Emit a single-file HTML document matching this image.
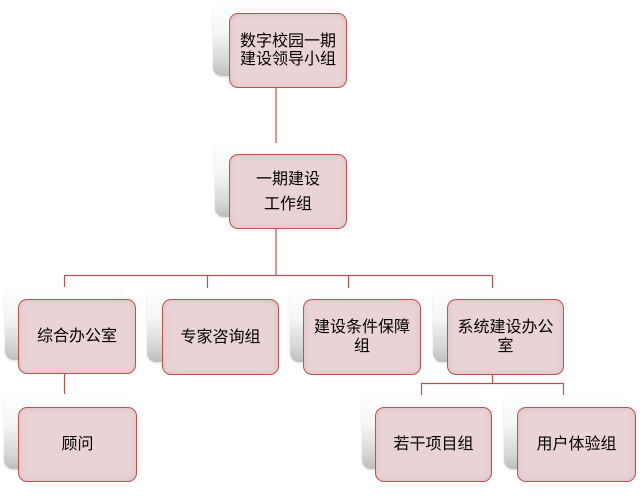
<!DOCTYPE html>
<html><head><meta charset="utf-8"><style>
html,body{margin:0;padding:0;background:#fff;}
body{width:642px;height:498px;overflow:hidden;position:relative;font-family:"Liberation Sans","Noto Sans CJK SC","WenQuanYi Zen Hei",sans-serif;}
.b{position:absolute;border-radius:9px;background:linear-gradient(#ffffff 0%,#f6f6f6 40%,#d6d6d6 80%,#bdbdbd 100%);box-shadow:0 1px 2px rgba(0,0,0,0.15);}
.f{position:absolute;box-sizing:border-box;border:1px solid #c0504d;border-radius:9px;background:#e9d3d4;box-shadow:inset 0 0 6px rgba(200,150,152,0.35);display:flex;align-items:center;justify-content:center;text-align:center;font-size:16px;color:#000;line-height:19px;}
svg{position:absolute;left:0;top:0;}
</style></head><body>
<svg width="642" height="498">
<g stroke="#c0504d" stroke-width="1.2" fill="none">
<line x1="276" y1="85" x2="276" y2="150"/>
<line x1="276" y1="226" x2="276" y2="275.5"/>
<line x1="64" y1="275.5" x2="492" y2="275.5"/>
<line x1="64.5" y1="275" x2="64.5" y2="290"/>
<line x1="207.5" y1="275" x2="207.5" y2="290"/>
<line x1="348.5" y1="275" x2="348.5" y2="290"/>
<line x1="492.5" y1="275" x2="492.5" y2="290"/>
<line x1="64.5" y1="360" x2="64.5" y2="398"/>
<line x1="492.5" y1="370" x2="492.5" y2="383.5"/>
<line x1="421" y1="383.5" x2="563" y2="383.5"/>
<line x1="421.5" y1="383" x2="421.5" y2="398"/>
<line x1="563.5" y1="383" x2="563.5" y2="398"/>
</g>
</svg>

<div class="b" style="left:213px;top:4px;width:122px;height:72px;"></div>
<div class="f" style="left:229px;top:13px;width:118px;height:75px;line-height:18px;">数字校园一期<br>建设领导小组</div>

<div class="b" style="left:215px;top:143px;width:118px;height:74px;"></div>
<div class="f" style="left:229px;top:154px;width:118px;height:75px;line-height:25px;padding-top:1px;">一期建设<br>工作组</div>

<div class="b" style="left:5px;top:287px;width:118px;height:73px;"></div>
<div class="f" style="left:18px;top:299px;width:118px;height:75px;">综合办公室</div>

<div class="b" style="left:147px;top:288px;width:118px;height:74px;"></div>
<div class="f" style="left:162px;top:299px;width:117px;height:76px;">专家咨询组</div>

<div class="b" style="left:290px;top:288px;width:118px;height:74px;"></div>
<div class="f" style="left:303px;top:299px;width:118px;height:76px;">建设条件保障<br>组</div>

<div class="b" style="left:433px;top:288px;width:118px;height:74px;"></div>
<div class="f" style="left:447px;top:299px;width:117px;height:76px;">系统建设办公<br>室</div>

<div class="b" style="left:4px;top:394px;width:119px;height:75px;"></div>
<div class="f" style="left:18px;top:407px;width:119px;height:75px;">顾问</div>

<div class="b" style="left:362px;top:395px;width:116px;height:74px;"></div>
<div class="f" style="left:375px;top:407px;width:117px;height:75px;">若干项目组</div>

<div class="b" style="left:504px;top:395px;width:117px;height:74px;"></div>
<div class="f" style="left:517px;top:407px;width:119px;height:75px;">用户体验组</div>
</body></html>
